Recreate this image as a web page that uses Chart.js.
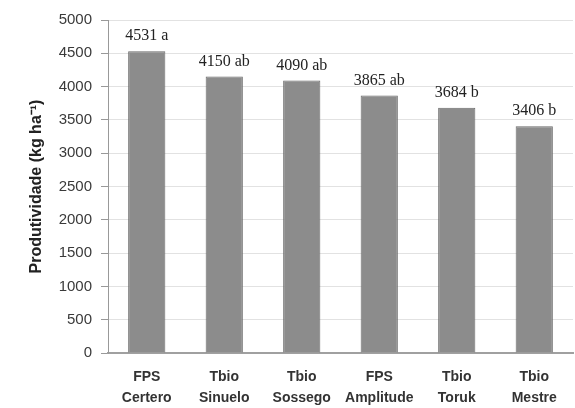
<!DOCTYPE html>
<html>
<head>
<meta charset="utf-8">
<script src="https://cdn.jsdelivr.net/npm/chart.js@4"></script>
<style>
  html, body { margin: 0; padding: 0; background: #fff; }
  #wrap { width: 575px; height: 408px; position: relative; }
</style>
</head>
<body>
<div id="wrap"><canvas id="c" width="575" height="408"></canvas></div>
<script>
const categories = [["FPS", "Certero"], ["Tbio", "Sinuelo"], ["Tbio", "Sossego"], ["FPS", "Amplitude"], ["Tbio", "Toruk"], ["Tbio", "Mestre"]];
const productivity = [4531, 4150, 4090, 3865, 3684, 3406];
const letters = ["a", "ab", "ab", "ab", "b", "b"];
const yTicks = [0, 500, 1000, 1500, 2000, 2500, 3000, 3500, 4000, 4500, 5000];
const yTitle = "Produtividade (kg ha\u207B\u00B9)";

const valueLabels = {
  id: 'valueLabels',
  afterDatasetsDraw(chart) {
    const ctx = chart.ctx;
    const meta = chart.getDatasetMeta(0);
    ctx.save();
    ctx.font = '16px "Liberation Serif", "DejaVu Serif", serif';
    ctx.fillStyle = '#222';
    ctx.textAlign = 'center';
    ctx.textBaseline = 'middle';
    meta.data.forEach((bar, i) => {
      ctx.fillText(productivity[i] + ' ' + letters[i], bar.x, bar.y - 15);
    });
    ctx.restore();
  }
};

new Chart(document.getElementById('c'), {
  type: 'bar',
  data: {
    labels: categories,
    datasets: [{
      data: productivity,
      backgroundColor: '#8c8c8c',
      borderColor: '#6a6a6a',
      borderWidth: 1,
      categoryPercentage: 1,
      barPercentage: 0.48
    }]
  },
  options: {
    responsive: false,
    animation: false,
    devicePixelRatio: 1,
    layout: { padding: { top: 20, right: 2, left: 0, bottom: 0 } },
    plugins: { legend: { display: false }, tooltip: { enabled: false } },
    scales: {
      x: {
        grid: { display: false, drawTicks: false },
        border: { display: true, color: '#a0a0a0', width: 2 },
        ticks: {
          color: '#333',
          font: { family: '"Liberation Sans", Arial, sans-serif', size: 14, weight: 'bold', lineHeight: 1.55 },
          padding: 13,
          maxRotation: 0,
          autoSkip: false
        },
        afterFit(s) { s.height = 55; }
      },
      y: {
        min: 0,
        max: 5000,
        afterBuildTicks(s) { s.ticks = yTicks.map(v => ({ value: v })); },
        grid: { color: '#e2e2e2', tickColor: '#999', tickLength: 7 },
        border: { display: true, color: '#999', width: 1 },
        ticks: {
          color: '#3a3a3a',
          font: { family: '"Liberation Sans", Arial, sans-serif', size: 15 },
          padding: 9,
          callback: (v) => String(v)
        },
        title: {
          display: true,
          text: yTitle,
          color: '#222',
          font: { family: '"Liberation Sans", Arial, sans-serif', size: 16, weight: 'bold' },
          padding: { top: 27, bottom: 0 }
        },
        afterFit(s) { s.width = 108; }
      }
    }
  },
  plugins: [valueLabels]
});
</script>
</body>
</html>
